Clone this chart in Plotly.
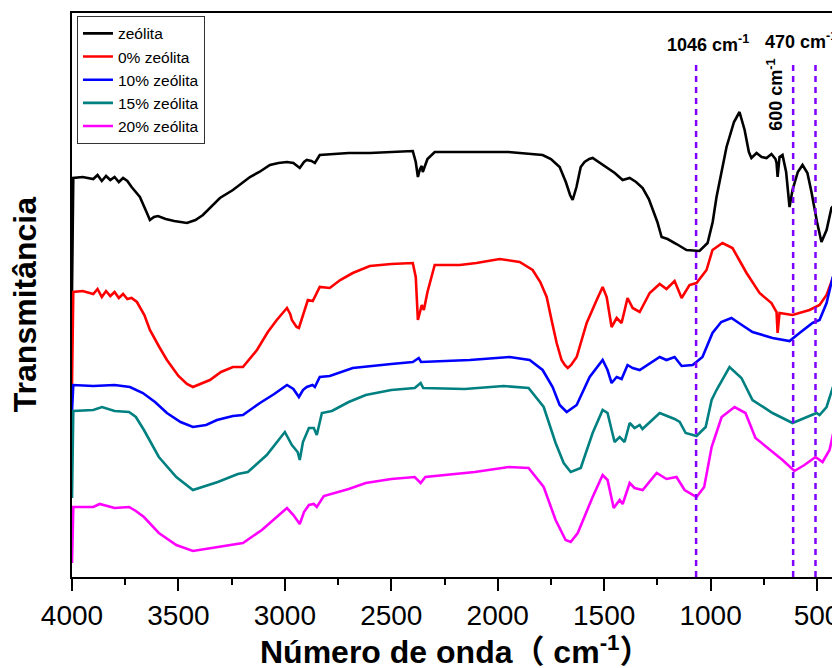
import plotly.graph_objects as go

# ---------------- data (wavenumber cm-1, transmittance in arbitrary offset units) ----------------
wn_zeolita = [4000, 3994, 3950, 3900, 3880, 3860, 3840, 3820, 3800, 3780, 3760, 3740, 3720, 3681, 3650,
              3634, 3615, 3596, 3560, 3520, 3460, 3420, 3385, 3340, 3305, 3244, 3200, 3164, 3120, 3070,
              3030, 2990, 2960, 2930, 2910, 2897, 2875, 2859, 2836, 2700, 2600, 2500, 2399, 2385, 2375,
              2365, 2357, 2352, 2330, 2296, 2131, 1950, 1789, 1750, 1709, 1680, 1660, 1648, 1630, 1610,
              1592, 1570, 1554, 1520, 1488, 1450, 1413, 1380, 1350, 1319, 1290, 1272, 1250, 1230, 1202,
              1160, 1113, 1052, 1014, 990, 972, 925, 890, 864, 850, 840, 820, 808, 784, 760, 737, 714,
              695, 690, 685, 680, 676, 662, 645, 629, 615, 590, 568, 545, 526, 500, 479, 455, 432, 418, 408]
t_zeolita = [285, 399, 400, 398, 402, 396, 401, 397, 400, 395, 399, 396, 390, 380, 365,
             357, 360, 361, 358, 356, 354, 357, 362, 372, 379, 387, 394, 400, 405, 412,
             414, 415, 414, 409, 415, 417, 416, 414, 422, 424, 424, 425, 426, 415, 400,
             408, 411, 405, 418, 425, 425, 425, 422, 418, 410, 395, 382, 377, 390, 410,
             415, 418, 419, 414, 410, 404, 397, 399, 395, 389, 378, 367, 355, 340, 338,
             333, 327, 326, 334, 355, 380, 430, 455, 465, 455, 447, 425, 419, 424, 420, 419, 423,
             418, 414, 400, 418, 420, 422, 405, 370, 387, 405, 412, 404, 385, 355, 335, 347, 369, 372, 368]

wn_0 = [4000, 3994, 3950, 3900, 3880, 3860, 3840, 3820, 3800, 3780, 3760, 3740, 3720, 3695, 3660,
        3634, 3590, 3554, 3500, 3460, 3432, 3400, 3352, 3300, 3244, 3197, 3170, 3131, 3080, 3038,
        2990, 2975, 2967, 2945, 2934, 2915, 2892, 2869, 2836, 2789, 2740, 2681, 2601, 2500, 2399,
        2385, 2375, 2365, 2357, 2347, 2330, 2296, 2178, 2100, 1991, 1897, 1836, 1800, 1770, 1745,
        1723, 1700, 1685, 1671, 1655, 1629, 1582, 1535, 1507, 1488, 1465, 1441, 1418, 1390, 1366,
        1333, 1286, 1239, 1207, 1169, 1150, 1136, 1099, 1066, 1019, 991, 944, 897, 860, 831, 770,
        714, 690, 685, 676, 615, 535, 488, 455, 427, 410]
t_0 = [192, 285, 286, 283, 288, 280, 286, 281, 285, 279, 283, 278, 279, 275, 262,
       247, 230, 217, 201, 193, 190, 193, 197, 205, 210, 210, 217, 227, 245, 257,
       269, 263, 257, 250, 249, 262, 277, 276, 290, 289, 297, 304, 311, 313, 314,
       300, 257, 265, 272, 267, 285, 312, 312, 314, 318, 315, 307, 295, 280, 255,
       234, 217, 212, 209, 212, 220, 254, 277, 290, 280, 250, 259, 254, 279, 269,
       265, 284, 293, 288, 296, 287, 279, 292, 294, 307, 327, 334, 329, 315, 304, 284,
       274, 265, 244, 264, 262, 267, 272, 282, 299, 308]

wn_10 = [4000, 3994, 3900, 3800, 3728, 3667, 3610, 3554, 3490, 3432, 3370, 3319, 3244, 3197, 3117,
         3050, 2990, 2960, 2934, 2915, 2897, 2870, 2859, 2836, 2789, 2681, 2500, 2399, 2371, 2360,
         2131, 1944, 1850, 1789, 1742, 1709, 1676, 1629, 1568, 1507, 1484, 1465, 1441, 1418, 1390,
         1366, 1333, 1239, 1207, 1169, 1136, 1084, 1038, 991, 950, 902, 860, 831, 803, 709, 629,
         582, 521, 488, 455, 427, 410]
t_10 = [166, 192, 191, 192, 190, 184, 175, 164, 155, 150, 152, 157, 161, 162, 174,
        183, 192, 188, 180, 187, 190, 192, 190, 200, 201, 209, 213, 215, 219, 215,
        217, 220, 217, 207, 190, 172, 165, 172, 200, 217, 207, 194, 200, 198, 212,
        209, 207, 220, 217, 220, 211, 212, 220, 244, 255, 259, 253, 249, 245, 239, 236,
        244, 254, 257, 274, 299, 310]

wn_15 = [4000, 3994, 3900, 3859, 3800, 3732, 3700, 3662, 3592, 3510, 3432, 3370, 3315, 3221, 3174,
         3085, 3000, 2967, 2940, 2930, 2915, 2887, 2864, 2850, 2826, 2779, 2700, 2620, 2500, 2390,
         2362, 2350, 2155, 1972, 1855, 1784, 1728, 1690, 1657, 1610, 1554, 1507, 1484, 1451, 1427,
         1404, 1380, 1357, 1333, 1320, 1239, 1169, 1145, 1117, 1066, 1023, 995, 972, 911, 855, 803,
         709, 615, 502, 488, 455, 427, 410]
t_15 = [79, 166, 167, 170, 166, 165, 160, 147, 120, 100, 87, 91, 95, 103, 105,
        122, 145, 132, 125, 117, 135, 149, 149, 142, 164, 166, 175, 182, 187, 189,
        194, 189, 188, 191, 189, 170, 134, 114, 105, 109, 144, 167, 164, 135, 140,
        135, 154, 149, 152, 148, 164, 158, 155, 144, 141, 150, 177, 187, 210, 199, 177,
        164, 154, 164, 162, 170, 190, 200]

wn_20 = [4000, 3994, 3900, 3870, 3800, 3732, 3700, 3662, 3592, 3510, 3432, 3315, 3197, 3108, 2990,
         2960, 2930, 2910, 2887, 2864, 2850, 2817, 2700, 2620, 2500, 2390, 2362, 2340, 2108, 1948,
         1855, 1784, 1728, 1681, 1657, 1624, 1554, 1507, 1484, 1455, 1427, 1413, 1380, 1357, 1319,
         1253, 1207, 1160, 1122, 1066, 1030, 995, 948, 887, 836, 789, 719, 662, 606, 559, 507,
         474, 441, 413]
t_20 = [14, 70, 70, 73, 69, 70, 66, 60, 44, 32, 26, 30, 34, 47, 69,
        62, 53, 65, 72, 73, 70, 81, 88, 94, 98, 100, 94, 100, 105, 110,
        109, 90, 57, 37, 35, 44, 80, 102, 97, 69, 77, 73, 94, 89, 87,
        104, 98, 100, 87, 80, 90, 130, 160, 170, 164, 139, 127, 117, 106, 112, 120,
        115, 127, 154]

series_names = ["zeólita", "0% zeólita", "10% zeólita", "15% zeólita", "20% zeólita"]
series_colors = ["#000000", "#FF0000", "#0000FF", "#008080", "#FF00FF"]

marker_wn = [1068, 612, 507]
marker_labels = ["1046 cm<sup>-1</sup>", "600 cm<sup>-1</sup>", "470 cm<sup>-1</sup>"]

x_ticks = [4000, 3500, 3000, 2500, 2000, 1500, 1000, 500]

# ---------------- figure ----------------
FONT = "Liberation Sans, Arial, Noto Sans CJK SC, sans-serif"
fig = go.Figure()
all_wn = [wn_zeolita, wn_0, wn_10, wn_15, wn_20]
all_t = [t_zeolita, t_0, t_10, t_15, t_20]
for name, col, xs, ys in zip(series_names, series_colors, all_wn, all_t):
    fig.add_trace(go.Scatter(x=xs, y=ys, mode="lines", name=name,
                             line=dict(color=col, width=2.6)))

for w in marker_wn:
    fig.add_shape(type="line", xref="x", yref="y", x0=w, x1=w, y0=0, y1=517,
                  line=dict(color="#8000FF", width=2.5, dash="6px,5px"))

fig.add_annotation(x=1013, y=534, xref="x", yref="y", text="<b>" + marker_labels[0] + "</b>",
                   showarrow=False, xanchor="center", yanchor="middle",
                   font=dict(family=FONT, size=18, color="black"))
fig.add_annotation(x=576, y=537, xref="x", yref="y", text="<b>" + marker_labels[2] + "</b>",
                   showarrow=False, xanchor="center", yanchor="middle",
                   font=dict(family=FONT, size=18, color="black"))
fig.add_annotation(x=698, y=482, xref="x", yref="y", text="<b>" + marker_labels[1] + "</b>",
                   showarrow=False, textangle=-90, xanchor="center", yanchor="middle",
                   font=dict(family=FONT, size=18, color="black"))

fig.add_annotation(x=-0.0614, y=0.482, xref="paper", yref="paper", text="<b>Transmitância</b>",
                   showarrow=False, textangle=-90, xanchor="center", yanchor="middle",
                   font=dict(family=FONT, size=32, color="black"))
fig.add_annotation(x=0.502, y=-0.13, xref="paper", yref="paper",
                   text="<b>Número de onda（ cm<sup>-1</sup>）</b>",
                   showarrow=False, xanchor="center", yanchor="middle",
                   font=dict(family=FONT, size=32, color="black"))

# the page body adds an 8 px offset, so the figure is 8 px smaller and margins shifted
fig.update_layout(
    width=832, height=660,
    margin=dict(l=64, r=3, t=5, b=91, autoexpand=False),
    paper_bgcolor="white", plot_bgcolor="white",
    showlegend=True,
    legend=dict(x=0.0065, y=0.995, xanchor="left", yanchor="top",
                bordercolor="#333333", borderwidth=1, bgcolor="white",
                font=dict(family=FONT, size=15.5, color="black"),
                tracegroupgap=0, itemwidth=30),
    xaxis=dict(range=[4000, 406], tickvals=x_ticks, ticks="outside", ticklen=12, tickwidth=2,
               tickcolor="black", showline=True, linecolor="black", linewidth=2, mirror=True,
               showgrid=False, zeroline=False, automargin=False, ticklabeloverflow="allow",
               minor=dict(dtick=250, tick0=0, ticks="outside", ticklen=6, tickwidth=2, tickcolor="black"),
               tickfont=dict(family=FONT, size=28, color="black")),
    yaxis=dict(range=[0, 564], showticklabels=False, ticks="", showline=True, linecolor="black",
               linewidth=2, mirror=True, showgrid=False, zeroline=False, automargin=False),
)

fig.write_html("out.html")
